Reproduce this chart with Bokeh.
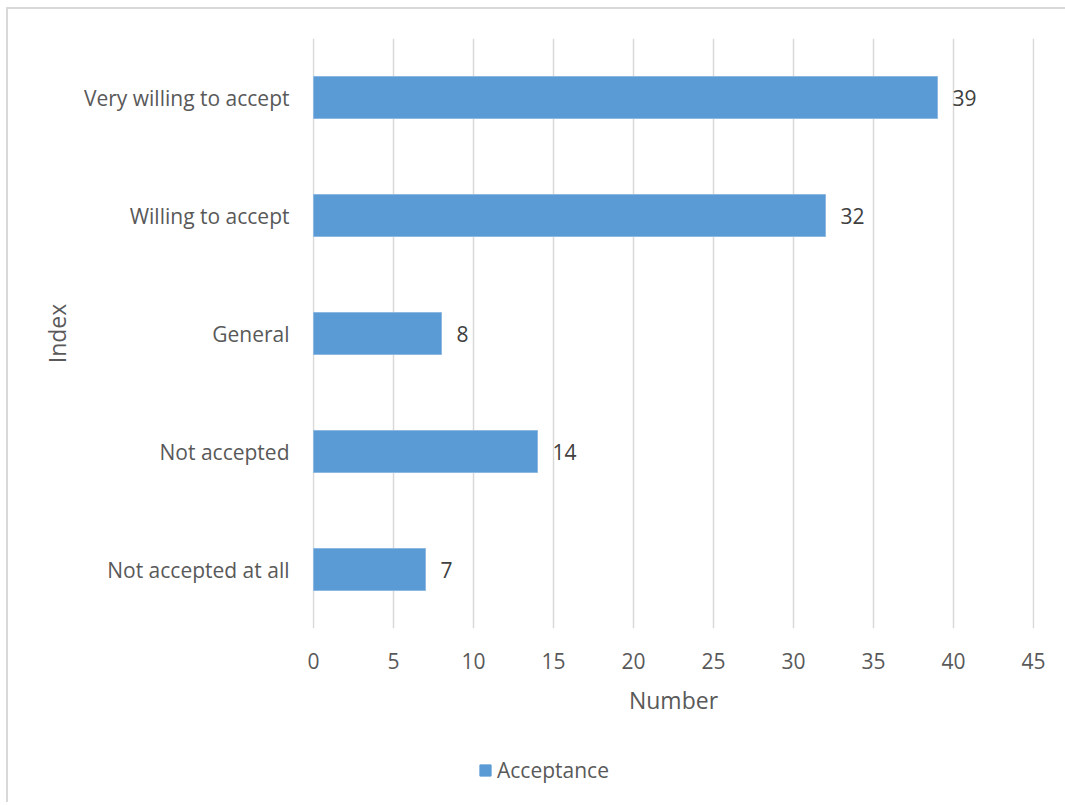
from bokeh.plotting import figure
from bokeh.layouts import column
from bokeh.models import (ColumnDataSource, FactorRange, Range1d, FixedTicker, LabelSet,
                          Legend, LegendItem)
from bokeh.core.properties import value
from bokeh.embed import file_html
from bokeh.resources import INLINE

categories = ["Not accepted at all", "Not accepted", "General", "Willing to accept", "Very willing to accept"]
values = [7, 14, 8, 32, 39]
series_name = "Acceptance"
x_ticks = [0, 5, 10, 15, 20, 25, 30, 35, 40, 45]

FONT = "Open Sans"
TXT = "#595959"
BAR = "#5B9BD5"

source = ColumnDataSource(dict(cat=categories, val=values, lbl=[str(v) for v in values]))

p = figure(width=1057, height=731, output_backend="svg", toolbar_location=None,
           y_range=FactorRange(*categories, range_padding=0),
           x_range=Range1d(-0.0625, 45.0625),
           min_border_left=304, min_border_right=31, min_border_top=29, min_border_bottom=112)
p.outline_line_color = None
p.background_fill_color = "white"
p.border_fill_color = "white"

r = p.hbar(y="cat", right="val", left=0, height=0.356, source=source,
           fill_color=BAR, line_color="#8DB8E2", line_width=1)

p.xaxis.ticker = FixedTicker(ticks=x_ticks)
p.xgrid.ticker = FixedTicker(ticks=x_ticks)
p.xgrid.grid_line_color = "#d9d9d9"
p.xgrid.grid_line_width = 1.5
p.ygrid.grid_line_color = None

for ax in (p.xaxis[0], p.yaxis[0]):
    ax.axis_line_color = None
    ax.major_tick_line_color = None
    ax.minor_tick_line_color = None
    ax.major_label_text_font = FONT
    ax.major_label_text_font_size = "21px"
    ax.major_label_text_color = TXT
    ax.axis_label_text_font = FONT
    ax.axis_label_text_font_size = "23px"
    ax.axis_label_text_color = TXT
    ax.axis_label_text_font_style = "normal"

p.xaxis.axis_label = "Number"
p.xaxis.major_label_standoff = 18
p.xaxis.axis_label_standoff = 12
p.yaxis.axis_label = "Index"
p.yaxis.major_label_standoff = 17
p.yaxis.axis_label_standoff = 8

labels = LabelSet(x="val", y="cat", text="lbl", source=source, x_offset=15,
                  text_baseline="middle", text_align="left",
                  text_font=value(FONT), text_font_size="21px", text_color="#404040")
p.add_layout(labels)

# legend strip below the chart (its renderer is hidden; only the legend shows)
p2 = figure(width=1057, height=62, output_backend="svg", toolbar_location=None,
            x_range=Range1d(0, 45), y_range=FactorRange(*categories),
            x_axis_location=None, y_axis_location=None,
            min_border_left=0, min_border_right=0, min_border_top=0, min_border_bottom=0)
p2.outline_line_color = None
p2.xgrid.grid_line_color = None
p2.ygrid.grid_line_color = None
p2.border_fill_color = "white"
r2 = p2.hbar(y="cat", right="val", left=0, height=0.356, source=source,
             fill_color=BAR, line_color=BAR)
r2.visible = False

legend = Legend(items=[LegendItem(label=series_name, renderers=[r2])],
                orientation="horizontal", location=(166, 18),
                label_text_font=FONT, label_text_font_size="21px", label_text_color=TXT,
                glyph_width=14, glyph_height=14, border_line_color=None,
                background_fill_alpha=0, label_standoff=5, margin=0, padding=0, spacing=0,
                inactive_fill_alpha=0)
p2.add_layout(legend, "center")

layout = column(p, p2, spacing=0)
layout.margin = (7, 0, 0, 6)
layout.styles = {"border-top": "2px solid #d9d9d9", "border-left": "2px solid #d9d9d9"}

open("out.html", "w").write(file_html(layout, INLINE))
